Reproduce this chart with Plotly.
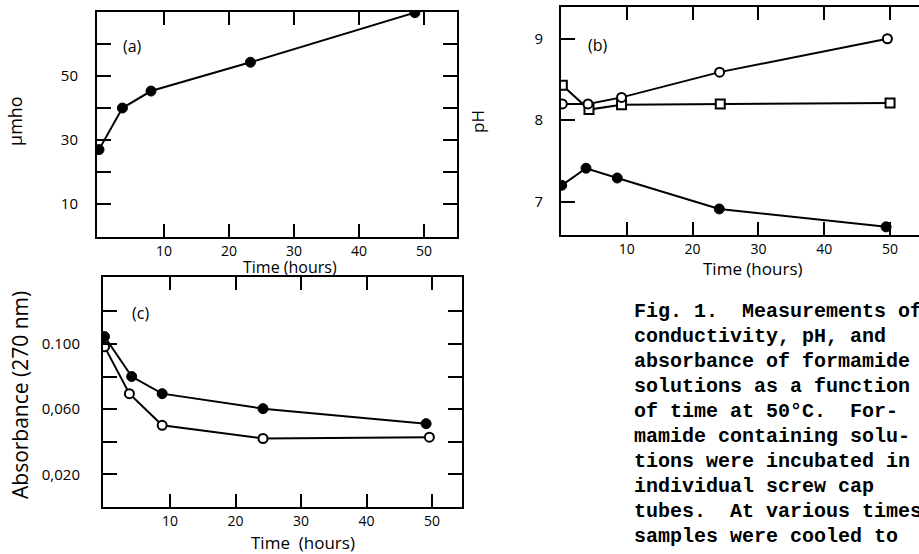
import plotly.graph_objects as go

# ---------------- data ----------------
# (a) conductivity
time_a = [0.0, 3.6, 8.0, 23.3, 48.6]
cond_a = [27.0, 40.0, 45.3, 54.3, 69.8]

# (b) pH
time_b_open = [0.2, 4.1, 9.2, 24.1, 49.6]
ph_open = [8.20, 8.20, 8.28, 8.59, 9.00]
time_b_square = [0.2, 4.25, 9.2, 24.2, 50.0]
ph_square = [8.43, 8.13, 8.19, 8.20, 8.21]
time_b_filled = [0.1, 3.8, 8.55, 24.05, 49.4]
ph_filled = [7.20, 7.41, 7.29, 6.91, 6.69]

# (c) absorbance
time_c_filled = [0.0, 4.15, 8.8, 24.2, 49.1]
abs_filled = [0.1045, 0.0800, 0.0695, 0.0603, 0.0511]
time_c_open = [0.0, 3.8, 8.8, 24.2, 49.6]
abs_open = [0.0983, 0.0695, 0.0501, 0.0420, 0.0428]

# ticks
x_ticks = [10, 20, 30, 40, 50]
x_ticklabels = ["10", "20", "30", "40", "50"]
a_yticks = [10, 20, 30, 40, 50, 60]
a_yticklabels = ["10", "", "30", "", "50", ""]
b_yticks = [7, 8, 9]
b_yticklabels = ["7", "8", "9"]
c_yticks = [0.02, 0.04, 0.06, 0.08, 0.10, 0.12]
c_yticklabels = ["0,020", "", "0,060", "", "0.100", ""]

caption_lines = [
    "Fig. 1.  Measurements of",
    "conductivity, pH, and",
    "absorbance of formamide",
    "solutions as a function",
    "of time at 50°C.  For-",
    "mamide containing solu-",
    "tions were incubated in",
    "individual screw cap",
    "tubes.  At various times",
    "samples were cooled to",
]

# ---------------- layout helpers ----------------
W, H = 919, 554
def px(x):
    return x / W
def py(y):
    return 1 - y / H

FONT = "Open Sans"
BLACK = "black"
LW = 2

fig = go.Figure()

line_style = dict(color=BLACK, width=LW)
filled = dict(symbol="circle", size=10, color=BLACK, line=dict(color=BLACK, width=1))
opencirc = dict(symbol="circle", size=9, color="white", line=dict(color=BLACK, width=2))
opensq = dict(symbol="square", size=9, color="white", line=dict(color=BLACK, width=2))

# (a)
fig.add_trace(go.Scatter(x=time_a, y=cond_a, mode="lines+markers",
                         line=line_style, marker=filled, xaxis="x", yaxis="y"))
# (b)
fig.add_trace(go.Scatter(x=time_b_square, y=ph_square, mode="lines+markers",
                         line=line_style, marker=opensq, xaxis="x2", yaxis="y2"))
fig.add_trace(go.Scatter(x=time_b_open, y=ph_open, mode="lines+markers",
                         line=line_style, marker=opencirc, xaxis="x2", yaxis="y2"))
fig.add_trace(go.Scatter(x=time_b_filled, y=ph_filled, mode="lines+markers",
                         line=line_style, marker=filled, xaxis="x2", yaxis="y2"))
# (c)
fig.add_trace(go.Scatter(x=time_c_filled, y=abs_filled, mode="lines+markers",
                         line=line_style, marker=filled, xaxis="x3", yaxis="y3"))
fig.add_trace(go.Scatter(x=time_c_open, y=abs_open, mode="lines+markers",
                         line=line_style, marker=opencirc, xaxis="x3", yaxis="y3"))

tickfont = dict(family=FONT, size=15, color=BLACK)
xtickfont = dict(family=FONT, size=14, color=BLACK)

def xax(domain, rng, anchor):
    return dict(domain=domain, range=rng, anchor=anchor, showline=True, linecolor=BLACK,
                linewidth=LW, mirror="ticks", ticks="inside", ticklen=13, tickwidth=LW,
                tickcolor=BLACK, tickvals=x_ticks, ticktext=x_ticklabels, showgrid=False,
                zeroline=False, tickfont=xtickfont)

def yax(domain, rng, anchor, vals, texts, standoff, mirror="ticks"):
    return dict(domain=domain, range=rng, anchor=anchor, showline=True, linecolor=BLACK,
                linewidth=LW, mirror=mirror, ticks="inside", ticklen=14, tickwidth=LW,
                tickcolor=BLACK, tickvals=vals, ticktext=texts, showgrid=False,
                zeroline=False, tickfont=tickfont, ticklabelstandoff=standoff)

fig.update_layout(
    width=W, height=H, margin=dict(l=0, r=0, t=0, b=0),
    paper_bgcolor="white", plot_bgcolor="white", showlegend=False,
    xaxis=xax([px(97), px(457)], [-0.31, 55.08], "y"),
    yaxis=yax([py(237), py(12)], [-0.3, 70], "x", a_yticks, a_yticklabels, 14),
    xaxis2=xax([px(561), 1.0], [0, 54.4], "y2"),
    yaxis2=yax([py(235), py(7)], [6.59, 9.39], "x2", b_yticks, b_yticklabels, 13, mirror=False),
    yaxis4=dict(domain=[py(235), py(7)], range=[6.59, 9.39], anchor="x2", overlaying="y2",
                side="right", showline=False, ticks="inside", ticklen=11, tickwidth=LW,
                tickcolor=BLACK, tickvals=b_yticks, showticklabels=False, showgrid=False,
                zeroline=False),
    xaxis3=xax([px(103), px(462)], [-0.23, 54.58], "y3"),
    yaxis3=yax([py(507), py(277)], [0, 0.141], "x3", c_yticks, c_yticklabels, 18),
)

annots = []
def txt(x, y, s, size=15, angle=0, family=FONT, xanchor="center", weight=None):
    f = dict(family=family, size=size, color=BLACK)
    if weight:
        f["weight"] = weight
    annots.append(dict(x=px(x), y=py(y), xref="paper", yref="paper", text=s,
                       showarrow=False, textangle=angle, font=f, xanchor=xanchor,
                       yanchor="middle"))

txt(132, 46, "(a)", 16)
txt(598, 45, "(b)", 16)
txt(140, 313, "(c)", 16)

txt(290, 267, "Time (hours)", 16)
txt(753, 268, "Time (hours)", 17)
txt(303, 542, "Time  (hours)", 17)

txt(15, 121, "μmho", 18, angle=-90)
txt(477, 122, "pH", 17, angle=-90)
txt(20, 395, "Absorbance (270 nm)", 21, angle=-90)

cap_y0 = 311.7
cap_dy = 25.0
for i, line in enumerate(caption_lines):
    txt(631.5, cap_y0 + i * cap_dy, line, 20, family="Liberation Mono",
        xanchor="left", weight="bold")

fig.update_layout(annotations=annots)

fig.write_html("out.html")
